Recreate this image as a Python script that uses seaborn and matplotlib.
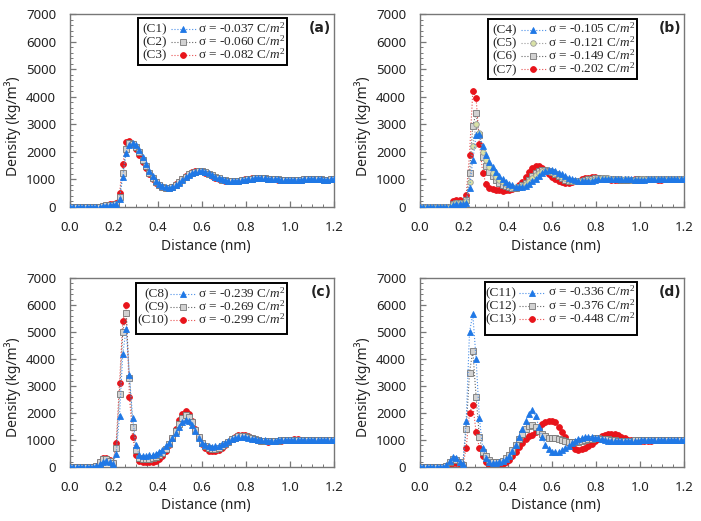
import numpy as np
import matplotlib
matplotlib.use("Agg")
import matplotlib.pyplot as plt
import seaborn as sns
from matplotlib.lines import Line2D
from matplotlib.patches import Rectangle
from matplotlib.ticker import MultipleLocator

# ---------------- data (density in kg/m^3, sampled every 0.015 nm) ----------------
distance = np.round(np.arange(81) * 0.015, 3)

A_C1 = [0]*10 + [20,50,70,80,100, 300,1100,1950,2250,2330, 2250,2050,1800,1550,1320,
        1120,960,840,760,710, 700,720,790,880,980, 1080,1160,1230,1270,1290,
        1290,1270,1220,1160,1100, 1050,1000,970,950,940, 940,950,965,985,1005,
        1020,1035,1045,1045,1040, 1030,1020,1010,1000,990, 985,980,980,985,990,
        995,1000,1005,1005,1005, 1000,1000,995,995,1000, 1000]
A_C2 = [0]*10 + [25,55,80,90,110, 350,1250,2100,2330,2300, 2180,1980,1720,1470,1250,
        1060,920,810,740,700, 700,730,800,900,1000, 1100,1180,1240,1280,1300,
        1290,1260,1210,1150,1090, 1040,995,965,945,935, 935,945,962,982,1002,
        1020,1035,1045,1047,1042, 1032,1020,1010,1000,990, 985,982,982,985,990,
        995,1000,1003,1005,1005, 1002,1000,997,996,998, 1000]
A_C3 = [0]*10 + [30,70,100,110,130, 500,1550,2350,2400,2280, 2120,1900,1650,1400,1180,
        1000,870,780,720,690, 700,740,820,920,1030, 1130,1210,1270,1300,1310,
        1290,1250,1190,1120,1060, 1010,975,950,935,935, 945,960,980,1005,1025,
        1040,1050,1055,1050,1040, 1030,1018,1006,996,988, 983,980,982,986,991,
        996,1001,1004,1006,1005, 1002,999,996,996,998, 1000]

B_C4 = [0]*10 + [80,120,120,100,150, 700,1700,2600,2650,2200, 1900,1650,1450,1280,1130,
        1010,910,840,780,740, 720,730,770,840,930, 1030,1130,1220,1290,1330,
        1330,1300,1250,1180,1110, 1050,1000,965,945,935, 935,945,960,980,1000,
        1015,1025,1030,1030,1025, 1020,1015,1010,1005,1000, 995,995,995,995,1000,
        1000,1000,1005,1005,1005, 1000,1000,1000,1000,1000, 1000]
B_C5 = [0]*10 + [100,150,150,120,200, 900,2200,3000,2700,2000, 1700,1450,1250,1100,980,
        890,820,770,730,710, 720,760,830,930,1040, 1150,1240,1300,1320,1310,
        1280,1230,1170,1100,1040, 990,960,940,935,940, 955,975,995,1015,1030,
        1040,1040,1035,1030,1020, 1010,1005,1000,998,996, 996,997,999,1001,1003,
        1004,1004,1003,1001,1000, 999,999,1000,1000,1000, 1000]
B_C6 = [0]*10 + [100,160,160,130,250, 1250,2950,3400,2600,1800, 1500,1280,1110,980,880,
        810,760,720,700,700, 720,780,870,990,1110, 1220,1300,1340,1340,1310,
        1260,1190,1120,1050,990, 955,935,930,940,955, 975,1000,1020,1035,1045,
        1045,1040,1030,1020,1010, 1000,995,992,992,994, 997,1000,1003,1005,1005,
        1004,1002,1000,999,999, 1000,1000,1000,1000,1000, 1000]
B_C7 = [0]*10 + [200,270,250,180,450, 1900,4200,3950,2300,1250, 850,700,640,610,600,
        595,600,610,640,700, 790,920,1100,1280,1430, 1490,1470,1400,1300,1190,
        1090,1000,940,900,885, 885,900,925,960,1000, 1035,1060,1075,1075,1065,
        1050,1030,1010,995,985, 980,980,985,990,995, 1000,1005,1010,1010,1005,
        1000,1000,995,995,1000, 1000,1000,1000,1000,1000, 1000]

C_C8 = [0]*8 + [30,120, 200,220,170,120,500, 1900,4200,5100,3400,1800, 800,430,400,420,440,
        460,500,560,640,760, 900,1070,1270,1480,1660, 1750,1700,1540,1330,1080,
        900,800,760,750,760, 790,840,900,960,1020, 1070,1100,1110,1100,1080,
        1055,1030,1010,995,985, 980,978,980,985,990, 995,1000,1005,1008,1010,
        1008,1005,1002,1000,1000, 1000,1000,1000,1000,1000, 1000]
C_C9 = [0]*8 + [40,170, 280,300,220,140,700, 2700,5000,5700,3300,1500, 620,330,280,280,300,
        320,360,430,530,670, 850,1070,1330,1600,1830, 1920,1850,1650,1370,1100,
        890,760,690,660,670, 700,760,840,930,1020, 1090,1130,1150,1140,1110,
        1070,1030,1000,975,965, 960,962,968,976,985, 995,1004,1010,1013,1012,
        1008,1004,1000,998,999, 1000,1000,1000,1000,1000, 1000]
C_C10 = [0]*8 + [50,200, 330,350,250,150,900, 3100,5400,6000,2600,1100, 450,230,180,170,180,
         200,240,310,420,580, 800,1080,1400,1730,1980, 2060,1960,1720,1400,1100,
         860,700,610,580,590, 630,700,800,910,1020, 1110,1170,1190,1170,1130,
         1080,1030,990,960,945, 940,945,955,965,980, 995,1005,1015,1020,1020,
         1015,1010,1005,1000,995, 995,1000,1000,1000,1000, 1000]

D_C11 = [0]*8 + [60,220, 380,330,200,110,1700, 5000,5650,4000,1800,700, 350,200,160,150,170,
         210,290,420,600,830, 1100,1400,1700,1980,2100, 1900,1500,1100,820,650,
         570,550,570,620,700, 790,880,960,1030,1080, 1110,1120,1110,1090,1060,
         1030,1000,980,965,955, 950,950,950,955,960, 965,975,985,995,1000,
         1005,1010,1010,1010,1005, 1005,1000,1000,1000,1000, 1000]
D_C12 = [0]*8 + [40,170, 280,250,170,90,1400, 3500,4300,2600,1100,550, 400,250,180,170,190,
         240,330,460,620,820, 1030,1230,1400,1520,1550, 1480,1350,1220,1130,1090,
         1080,1070,1040,1000,960, 930,920,925,940,965, 995,1025,1050,1065,1065,
         1055,1040,1020,1000,985, 975,970,970,975,980, 988,995,1000,1004,1006,
         1006,1004,1002,1000,1000, 1000,1000,1000,1000,1000, 1000]
D_C13 = [0]*8 + [30,100, 150,140,100,60,700, 2000,2300,1300,700,400, 200,80,40,40,60,
         100,170,270,400,560, 740,900,1050,1150,1200, 1300,1450,1600,1680,1720,
         1720,1650,1500,1300,1100, 900,760,670,640,650, 700,780,870,960,1050,
         1130,1190,1225,1235,1215, 1170,1110,1060,1015,985, 965,952,948,952,962,
         975,985,995,1000,1005, 1005,1005,1000,1000,1000, 1000]

panel_letters = ["(a)", "(b)", "(c)", "(d)"]
case_ids = [["(C1)", "(C2)", "(C3)"],
            ["(C4)", "(C5)", "(C6)", "(C7)"],
            ["(C8)", "(C9)", "(C10)"],
            ["(C11)", "(C12)", "(C13)"]]
sigma_labels = [["-0.037", "-0.060", "-0.082"],
                ["-0.105", "-0.121", "-0.149", "-0.202"],
                ["-0.239", "-0.269", "-0.299"],
                ["-0.336", "-0.376", "-0.448"]]
series = [[A_C1, A_C2, A_C3],
          [B_C4, B_C5, B_C6, B_C7],
          [C_C8, C_C9, C_C10],
          [D_C11, D_C12, D_C13]]
series_styles = [["blue", "grey", "red"],
                 ["blue", "olive", "grey", "red"],
                 ["blue", "grey", "red"],
                 ["blue", "grey", "red"]]

# ---------------- styles ----------------
STY = {
    "blue":  dict(m="^", ms=4.6, fc="#1f78e6", ec="#1f78e6", lc="#4a8fe8"),
    "grey":  dict(m="s", ms=3.8, fc="#d2d2d2", ec="#777777", lc="#666666"),
    "olive": dict(m="o", ms=4.0, fc="#d9e2a6", ec="#9a9a9a", lc="#9a9a9a"),
    "red":   dict(m="o", ms=4.2, fc="#e8141b", ec="#e8141b", lc="#e85050"),
}

sns.set_theme(style="ticks")
plt.rcParams["font.family"] = ["Noto Sans", "DejaVu Sans"]
plt.rcParams["mathtext.fontset"] = "custom"
plt.rcParams["mathtext.rm"] = "Liberation Serif"
plt.rcParams["mathtext.it"] = "Liberation Serif:italic"

FW, FH = 701, 521
fig = plt.figure(figsize=(FW / 100, FH / 100), dpi=100)
fig.patch.set_facecolor("white")

# axes boxes in pixels: left, top, right, bottom
ax_px = [(70, 14, 334, 207), (420, 14, 684, 207), (70, 278, 334, 467), (420, 278, 684, 467)]
# legend boxes in pixels: left, top, width, height
leg_px = [(138, 18, 149, 47), (488, 19, 149, 60), (136, 283, 151, 51), (485, 282, 152, 53)]
# legend inner columns in pixels from box left: id right edge, marker centre, sigma text start
leg_cols = [(29, 45, 60), (29, 45, 60), (32.5, 46.5, 62), (31.5, 46.5, 63)]

SPINE = "#777777"


def fx(p):
    return p / FW


def fy(p):
    return 1 - p / FH


def draw_legend(box, cols, ids, sigmas, styles):
    L, T, W, H = box
    c_id, c_mk, c_sg = cols
    fig.add_artist(Rectangle((fx(L), fy(T + H)), W / FW, H / FH, transform=fig.transFigure,
                             fc="white", ec="black", lw=1.4, zorder=5))
    for k, (cid, sg, st) in enumerate(zip(ids, sigmas, styles)):
        s = STY[st]
        yy = T + 10.5 + 13.3 * k
        fig.text(fx(L + c_id), fy(yy + 3.6), cid, ha="right", va="baseline", fontsize=9.5,
                 family="Liberation Serif", zorder=6)
        fig.add_artist(Line2D([fx(L + c_mk - 12.5), fx(L + c_mk + 12.5)], [fy(yy), fy(yy)],
                              transform=fig.transFigure, color=s["lc"], ls=":", lw=0.8, zorder=6))
        fig.add_artist(Line2D([fx(L + c_mk)], [fy(yy)], transform=fig.transFigure, ls="none",
                              marker=s["m"], ms=s["ms"], mfc=s["fc"], mec=s["ec"], mew=0.6, zorder=7))
        fig.text(fx(L + c_sg), fy(yy + 3.6), "σ = " + sg + " C/$m^2$", ha="left", va="baseline",
                 fontsize=9.5, family="Liberation Serif", zorder=6)


for p in range(4):
    l, t, r, b = ax_px[p]
    ax = fig.add_axes([fx(l), fy(b), (r - l) / FW, (b - t) / FH])
    order = list(range(len(series[p])))[::-1]  # red first, blue on top
    for z, k in enumerate(order):
        s = STY[series_styles[p][k]]
        sns.lineplot(x=distance, y=np.array(series[p][k], dtype=float), ax=ax, sort=False,
                     estimator=None, legend=False, color=s["lc"], linestyle=":", linewidth=0.8,
                     marker=s["m"], markersize=s["ms"], markerfacecolor=s["fc"],
                     markeredgecolor=s["ec"], markeredgewidth=0.6, zorder=2 + z)
    ax.set_xlim(0, 1.2)
    ax.set_ylim(0, 7000)
    ax.xaxis.set_major_locator(MultipleLocator(0.2))
    ax.xaxis.set_minor_locator(MultipleLocator(0.05))
    ax.yaxis.set_major_locator(MultipleLocator(1000))
    ax.yaxis.set_minor_locator(MultipleLocator(200))
    ax.xaxis.set_major_formatter(matplotlib.ticker.FormatStrFormatter("%.1f"))
    ax.tick_params(which="both", direction="in", color=SPINE, top=False, right=False)
    ax.tick_params(which="major", length=4, width=0.9, labelsize=9.5, pad=10, labelcolor="#222222")
    ax.tick_params(which="minor", length=2.2, width=0.7)
    for sp in ax.spines.values():
        sp.set_color(SPINE)
        sp.set_linewidth(1.0)
    ax.set_xlabel("Distance (nm)", fontsize=10, color="#222222")
    ax.set_ylabel("Density (kg/m³)", fontsize=10, color="#222222")
    ax.xaxis.set_label_coords(0.515, -0.165)
    ax.yaxis.set_label_coords(-0.185, 0.42)
    ax.text(0.99, 0.925, panel_letters[p], transform=ax.transAxes, ha="right", va="center",
            fontsize=10, fontweight="bold", family=["DejaVu Sans"], color="#222222")
    draw_legend(leg_px[p], leg_cols[p], case_ids[p], sigma_labels[p], series_styles[p])

fig.savefig("out.png", dpi=100, facecolor="white")
